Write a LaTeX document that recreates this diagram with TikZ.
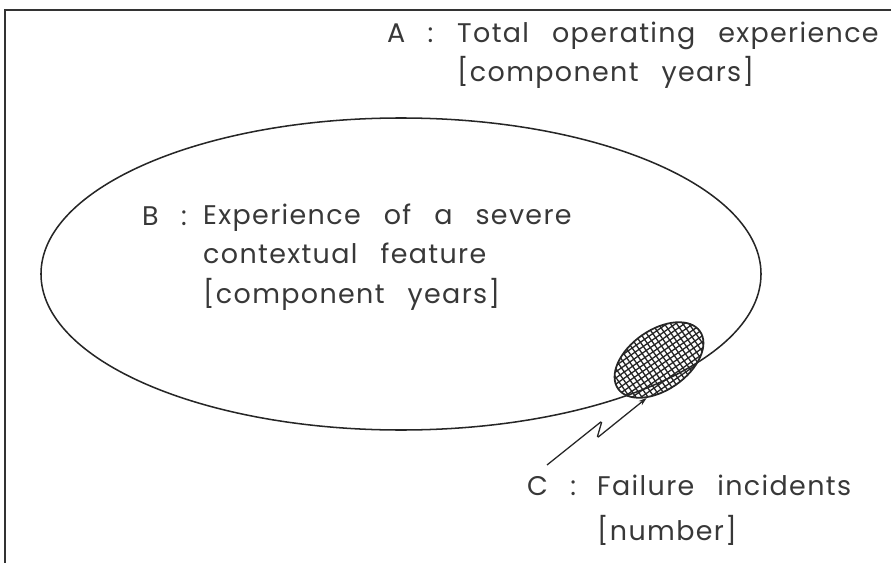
\documentclass[tikz,border=0pt]{standalone}
\usepackage{fontspec}
\setmainfont{Poppins}[LetterSpace=5,WordSpace=2.7]
\usetikzlibrary{arrows.meta}
\usetikzlibrary{shapes.geometric}

\tikzset{
  keytext/.style={anchor=base west, inner sep=0pt, text=black!78},
  bodytext/.style={anchor=base west, inner sep=0pt, align=left, text=black!78},
  outline/.style={draw=black!85, line width=1.3pt},
}

\begin{document}
\begin{tikzpicture}[x=0.03cm,y=-0.03cm,font=\fontsize{23}{33.3}\selectfont]
  \useasboundingbox (0,0) rectangle (891,563);

  % frame, only top and left edges are left
  \draw [line width=1.6pt, black!80] (891,10) -- (5,10) -- (5,563);

  % C : failure incidents, hatched patch
  \node [ellipse, draw=black!85, line width=1.5pt, rotate=35,
         minimum width=3cm, minimum height=1.8cm,
         path picture={\draw [black!85, line width=1.1pt,
           shift={(path picture bounding box.center)}, rotate=-35, step=4.3pt]
           (-60pt,-60pt) grid (60pt,60pt);}] (fail) at (659,360) {};

  % B : the big ellipse
  \node [ellipse, outline, minimum width=21.6cm, minimum height=9.36cm] (feature) at (401,274) {};

  % labels (body nodes sit on the baseline of their last line)
  \node [keytext] (akey) at (387,43) {A\hspace{19pt}:};
  \node [bodytext] (atext) at (457,82) {Total operating experience\\{}[component years]};

  \node [keytext] (bkey) at (142,225) {B\hspace{19pt}:};
  \node [bodytext] (btext) at (203,303) {Experience of a severe\\contextual feature\\{}[component years]};

  \node [keytext] (ckey) at (527,495) {C\hspace{19pt}:};
  \node [bodytext, font=\fontsize{23}{38.4}\selectfont] (ctext) at (597,540) {Failure incidents\\{}[number]};

  % zigzag pointer to the patch
  \coordinate (zig) at (547,465);
  \draw [line width=1.1pt, black!85, rounded corners=1.5pt, -{Stealth[length=7pt,width=4.5pt]}]
    (zig) -- (602,421) -- (597,438) -- (fail.217);

\end{tikzpicture}
\end{document}
